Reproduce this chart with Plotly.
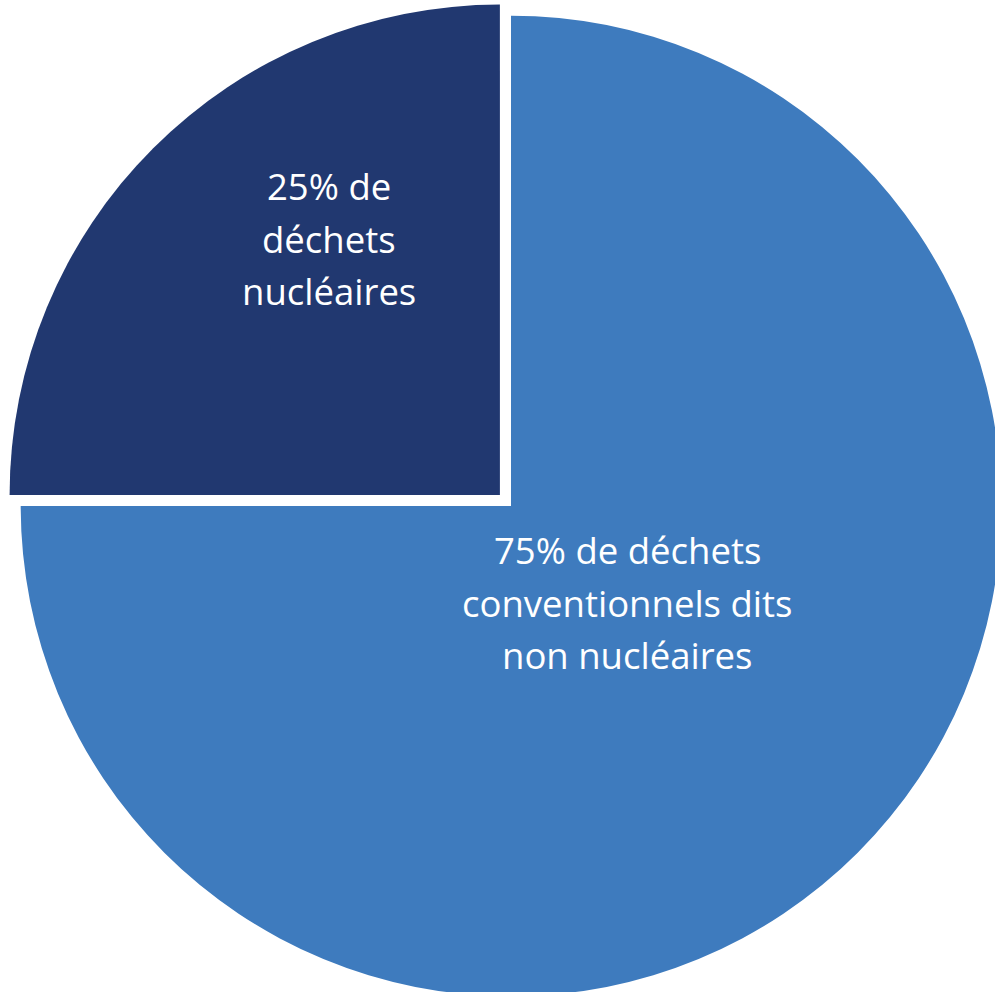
import plotly.graph_objects as go

# Data
categories = ["Déchets conventionnels dits non nucléaires", "Déchets nucléaires"]
shares = [75, 25]
slice_labels = [
    "75% de déchets<br>conventionnels dits<br>non nucléaires",
    "25% de<br>déchets<br>nucléaires",
]
colors = ["#3E7BBE", "#213870"]
pulls = [0, 0.032]

W, H = 1022, 1012

fig = go.Figure(
    go.Pie(
        labels=categories,
        values=shares,
        sort=False,
        direction="clockwise",
        rotation=0,
        pull=pulls,
        marker=dict(colors=colors, line=dict(width=0)),
        textinfo="none",
        hoverinfo="skip",
        showlegend=False,
    )
)

# label positions (pixel centres of each text line), per slice
label_x = [627, 329]
label_y0 = [550, 186]
line_gap = 52.5
font = dict(family="Open Sans, Noto Sans, sans-serif", size=36.5, color="white")

annotations = []
for txt, lx, ly in zip(slice_labels, label_x, label_y0):
    for k, line in enumerate(txt.split("<br>")):
        py = ly + k * line_gap
        annotations.append(
            dict(
                text=line,
                x=lx / W,
                y=1 - py / H,
                xref="paper",
                yref="paper",
                xanchor="center",
                yanchor="middle",
                showarrow=False,
                font=font,
            )
        )

fig.update_layout(
    width=W,
    height=H,
    margin=dict(l=0, r=0, t=0, b=0),
    paper_bgcolor="white",
    plot_bgcolor="white",
    annotations=annotations,
)

fig.write_html(
    "out.html",
    post_script="document.body.style.overflow='hidden';document.body.style.margin='0';",
)
